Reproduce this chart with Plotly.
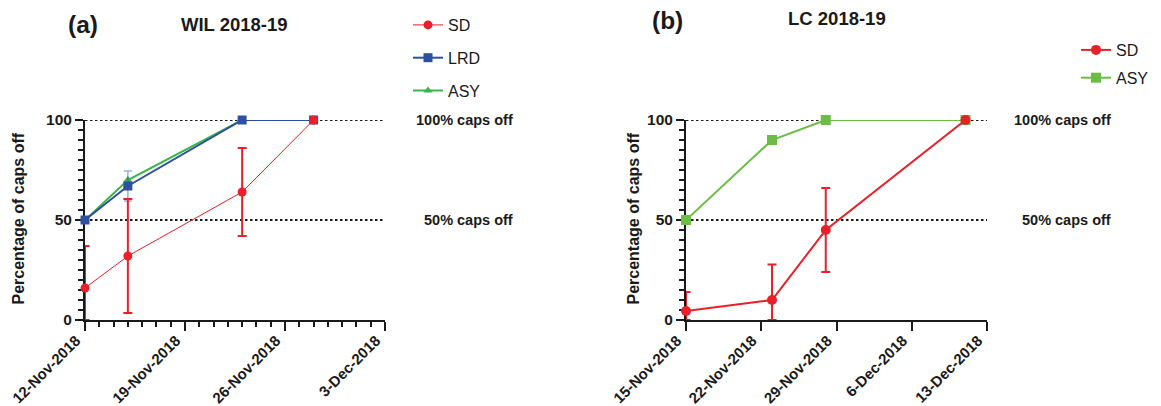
import plotly.graph_objects as go

# ---- Panel (a): WIL 2018-19 ----
wil_dates = ["2018-11-12", "2018-11-15", "2018-11-23", "2018-11-28"]
wil_sd = [16, 32, 64, 100]
wil_sd_err = [21, 28.5, 22, None]
wil_lrd = [50, 67, 100, 100]
wil_lrd_err = [None, 7.5, None, None]
wil_asy = [50, 70, 100, 100]

# ---- Panel (b): LC 2018-19 ----
lc_dates = ["2018-11-15", "2018-11-23", "2018-11-28", "2018-12-11"]
lc_sd = [4.5, 10, 45, 100]
lc_sd_err = [9.5, 17.7, 21, None]
lc_asy = [50, 90, 100, 100]

wil_ticks = ["2018-11-12", "2018-11-19", "2018-11-26", "2018-12-03"]
wil_ticklabels = ["12-Nov-2018", "19-Nov-2018", "26-Nov-2018", "3-Dec-2018"]
lc_ticks = ["2018-11-15", "2018-11-22", "2018-11-29", "2018-12-06", "2018-12-13"]
lc_ticklabels = ["15-Nov-2018", "22-Nov-2018", "29-Nov-2018", "6-Dec-2018", "13-Dec-2018"]
y_ticks = [0, 50, 100]
ref_levels = [100, 50]
ref_labels = ["100% caps off", "50% caps off"]

RED = "#e8202a"
BLUE = "#2f4fa2"
GREEN_A = "#3ab54a"
GREEN_B = "#6cbd45"
INK = "#1a1a1a"
FONT = "Liberation Sans, Arial, sans-serif"

W, H = 1161, 406


def px_x(p):
    return p / W


def px_y(p):
    return 1 - p / H


def lower_err(vals, errs):
    # error bars stop at the 0 baseline
    return [None if e is None else min(e, v) for v, e in zip(vals, errs)]


fig = go.Figure()

# panel (a) traces
fig.add_trace(go.Scatter(
    x=wil_dates, y=wil_asy, name="ASY", mode="lines+markers",
    line=dict(color=GREEN_A, width=2),
    marker=dict(symbol="triangle-up", size=8, color=GREEN_A),
    xaxis="x", yaxis="y", legend="legend", legendgroup="a3", legendrank=3,
    cliponaxis=False))
fig.add_trace(go.Scatter(
    x=wil_dates, y=wil_lrd, name="LRD", mode="lines+markers",
    line=dict(color=BLUE, width=2),
    marker=dict(symbol="square", size=9, color=BLUE),
    error_y=dict(type="data", array=wil_lrd_err, color="rgba(47,79,162,0.45)",
                 thickness=1.5, width=4),
    xaxis="x", yaxis="y", legend="legend", legendgroup="a2", legendrank=2,
    cliponaxis=False))
fig.add_trace(go.Scatter(
    x=wil_dates, y=wil_sd, name="SD", mode="lines+markers",
    line=dict(color=RED, width=1),
    marker=dict(symbol="circle", size=9, color=RED),
    error_y=dict(type="data", symmetric=False, array=wil_sd_err,
                 arrayminus=lower_err(wil_sd, wil_sd_err),
                 color=RED, thickness=2, width=4.5),
    xaxis="x", yaxis="y", legend="legend", legendgroup="a1", legendrank=1,
    cliponaxis=False))

# panel (b) traces
fig.add_trace(go.Scatter(
    x=lc_dates, y=lc_asy, name="ASY", mode="lines+markers",
    line=dict(color=GREEN_B, width=2),
    marker=dict(symbol="square", size=10, color=GREEN_B),
    xaxis="x2", yaxis="y2", legend="legend2", legendgroup="b2", legendrank=2,
    cliponaxis=False))
fig.add_trace(go.Scatter(
    x=lc_dates, y=lc_sd, name="SD", mode="lines+markers",
    line=dict(color=RED, width=2),
    marker=dict(symbol="circle", size=10, color=RED),
    error_y=dict(type="data", symmetric=False, array=lc_sd_err,
                 arrayminus=lower_err(lc_sd, lc_sd_err),
                 color=RED, thickness=2, width=4.5),
    xaxis="x2", yaxis="y2", legend="legend2", legendgroup="b1", legendrank=1,
    cliponaxis=False))

DAY = 86400000

xaxis_common = dict(
    type="date", showgrid=False, zeroline=False, automargin=False,
    showline=True, linecolor=INK, linewidth=2,
    ticks="outside", ticklen=9, tickwidth=2, tickcolor=INK,
    tickangle=-45, tickfont=dict(family=FONT, size=15, color=INK, weight="bold"),
    ticklabelstandoff=-5, ticklabelshift=-9,
    tickmode="array",
)
yaxis_common = dict(
    range=[0, 100], showgrid=False, zeroline=False, automargin=False,
    showline=True, linecolor=INK, linewidth=2, layer="below traces",
    ticks="outside", ticklen=8, tickwidth=2, tickcolor=INK,
    tickmode="array", tickvals=y_ticks, ticktext=[str(v) for v in y_ticks],
    tickfont=dict(family=FONT, size=15.5, color=INK, weight="bold"),
    minor=dict(dtick=5, ticks="outside", ticklen=5, tickwidth=1.5, tickcolor=INK),
)

fig.update_layout(
    width=W, height=H,
    margin=dict(l=0, r=0, t=0, b=0, autoexpand=False),
    paper_bgcolor="white", plot_bgcolor="white",
    font=dict(family=FONT, color=INK),
    xaxis=dict(xaxis_common, domain=[px_x(85), px_x(385)],
               range=[wil_ticks[0], wil_ticks[-1]],
               tickvals=wil_ticks, ticktext=wil_ticklabels,
               minor=dict(dtick=DAY, tick0=wil_ticks[0], ticks="outside",
                          ticklen=5, tickwidth=1.5, tickcolor=INK),
               anchor="y"),
    yaxis=dict(yaxis_common, domain=[px_y(320), px_y(120)], anchor="x"),
    xaxis2=dict(xaxis_common, domain=[px_x(686), px_x(987)],
                range=[lc_ticks[0], lc_ticks[-1]],
                tickvals=lc_ticks, ticktext=lc_ticklabels, anchor="y2"),
    yaxis2=dict(yaxis_common, domain=[px_y(320), px_y(120)], anchor="x2"),
    legend=dict(x=px_x(408), y=px_y(8), xanchor="left", yanchor="top",
                font=dict(family=FONT, size=16, color=INK),
                tracegroupgap=9, bgcolor="rgba(0,0,0,0)"),
    legend2=dict(x=px_x(1076), y=px_y(33), xanchor="left", yanchor="top",
                 font=dict(family=FONT, size=16, color=INK),
                 tracegroupgap=4, bgcolor="rgba(0,0,0,0)"),
    showlegend=True,
)

# dotted reference levels and their labels
for xa, ya, dates, lab_x in [("x", "y", wil_ticks, 515), ("x2", "y2", lc_ticks, 1113)]:
    for lvl, lab in zip(ref_levels, ref_labels):
        fig.add_shape(type="line", xref=xa, yref=ya, x0=dates[0], x1=dates[-1],
                      y0=lvl, y1=lvl, layer="below",
                      line=dict(color=INK, width=2, dash="2.5px,2.5px"))
        fig.add_annotation(xref="paper", yref=ya, x=px_x(lab_x), y=lvl,
                           xanchor="right", yanchor="middle", showarrow=False,
                           text=f"<b>{lab}</b>",
                           font=dict(family=FONT, size=14.5, color=INK))

# panel letters, titles and y-axis titles
for letter, title, lx, ly, tx, ty, ax_x in [("(a)", "WIL 2018-19", 83, 25, 234, 24, 18.5),
                                            ("(b)", "LC 2018-19", 667, 20, 837, 18, 633.5)]:
    fig.add_annotation(xref="paper", yref="paper", x=px_x(lx), y=px_y(ly),
                       xanchor="center", yanchor="middle", showarrow=False,
                       text=f"<b>{letter}</b>",
                       font=dict(family=FONT, size=24.5, color=INK))
    fig.add_annotation(xref="paper", yref="paper", x=px_x(tx), y=px_y(ty),
                       xanchor="center", yanchor="middle", showarrow=False,
                       text=f"<b>{title}</b>",
                       font=dict(family=FONT, size=18.5, color=INK))
    fig.add_annotation(xref="paper", yref="paper", x=px_x(ax_x), y=px_y(219),
                       xanchor="center", yanchor="middle", showarrow=False,
                       textangle=-90, text="<b>Percentage of caps off</b>",
                       font=dict(family=FONT, size=16, color=INK))

fig.write_html("out.html")
